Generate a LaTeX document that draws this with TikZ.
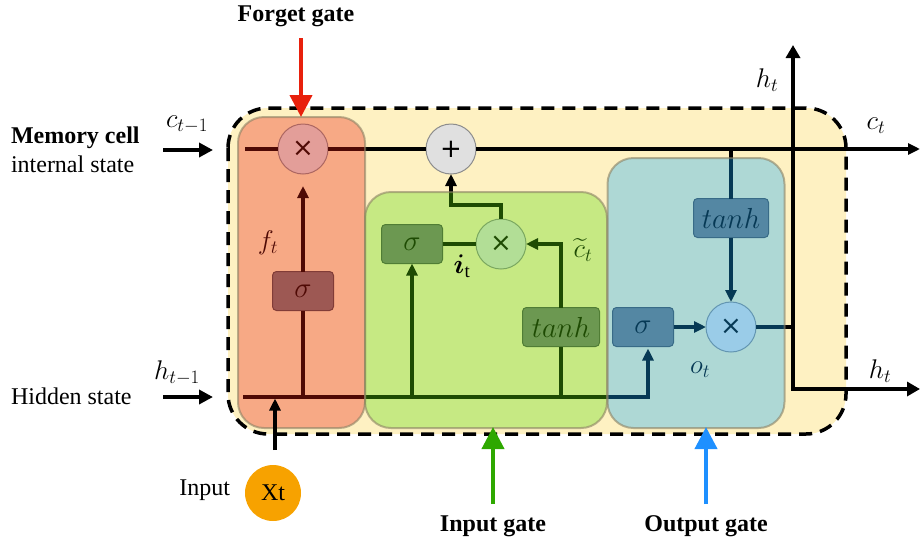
\RequirePackage{fix-cm}
\documentclass[tikz,border=0pt]{standalone}
\usepackage{amsmath}
\usepackage{fontspec}
\setmainfont{Liberation Serif}
\newfontfamily\symfont{DejaVu Sans}
\usetikzlibrary{arrows.meta}

\definecolor{bgyellow}{RGB}{254,241,194}
\definecolor{forgetC}{RGB}{234,31,16}
\definecolor{inputC}{RGB}{90,220,10}
\definecolor{outputC}{RGB}{20,168,250}
\definecolor{opgray}{RGB}{118,118,118}
\definecolor{circgray}{RGB}{224,224,224}
\definecolor{gateborder}{RGB}{140,130,100}
\definecolor{xtorange}{RGB}{247,162,0}
\definecolor{fgred}{RGB}{232,32,12}
\definecolor{igreen}{RGB}{46,168,0}
\definecolor{oblue}{RGB}{30,144,255}

\begin{document}
\begin{tikzpicture}[x=1pt,y=-1pt,
  every node/.style={inner sep=0pt, outer sep=0pt},
  txt/.style={font=\fontsize{24}{28}\selectfont},
  btxt/.style={font=\fontsize{24}{28}\selectfont\bfseries},
  lbl/.style={font=\fontsize{27}{31}\selectfont},
  opbox/.style={draw=black!70, line width=1pt, fill=opgray, rounded corners=4pt,
    minimum height=39pt, font=\fontsize{29}{33}\selectfont},
  opcirc/.style={circle, draw=black!45, line width=1pt, fill=circgray,
    minimum size=50pt, font=\symfont\fontsize{26}{26}\selectfont},
  wire/.style={line width=3.5pt, line join=miter},
  warr/.style={-{Triangle[length=12pt,width=11pt]}},
  bigarr/.style={line width=4pt, -{Triangle[length=14pt,width=14pt]}},
  gatearr/.style={line width=4pt, -{Triangle[length=22pt,width=22pt]}},
  gatebox/.style={rounded corners=26pt, draw=gateborder, draw opacity=0.6,
    line width=2pt, fill opacity=0.34},
  dashborder/.style={line width=3.5pt, dash pattern=on 13pt off 8pt, rounded corners=40pt}
]
\useasboundingbox (0,0) rectangle (920,544);

% cell background
\node[fill=bgyellow, rounded corners=40pt, minimum width=618pt, minimum height=326pt] (cell) at (537,271) {};

% operation nodes
\node[opcirc] (fx) at (303,149) {×};
\node[opcirc] (plus) at (451,149) {+};
\node[opcirc] (ix) at (501,244) {×};
\node[opcirc] (ox) at (731,327) {×};
\node[opbox, minimum width=61pt] (fs) at (303,291) {$\sigma$};
\node[opbox, minimum width=61pt] (is) at (412,244) {$\sigma$};
\node[opbox, minimum width=77pt] (it) at (561,327) {$tanh$};
\node[opbox, minimum width=61pt] (os) at (643,327) {$\sigma$};
\node[opbox, minimum width=75pt] (ot) at (731,218) {$tanh$};

% coordinates
\coordinate (cin) at (245,149);
\coordinate (cout) at (920,149);
\coordinate (hin) at (243,397);
\coordinate (hturn) at (648,397);
\coordinate (jt) at (731,149);
\coordinate (hcorner) at (793,389);
\coordinate (htop) at (793,45);
\coordinate (hright) at (920,389);

% cell state line
\draw[wire] (cin) -- (fx.west);
\draw[wire] (fx.east) -- (plus.west);
\draw[wire, warr] (plus.east) -- (cout);

% hidden/input line
\draw[wire, warr, shorten >=2pt] (hin) -- (hturn) -- (hturn |- os.south);
% forget branch
\draw[wire] (fs.south |- hin) -- (fs.south);
\draw[wire, warr, shorten >=12pt] (fs.north) -- (fx.south);
% input branch
\draw[wire, warr] (is.south |- hin) -- (is.south);
\draw[wire] (it.south |- hin) -- (it.south);
\draw[wire, warr] (it.north) |- (ix.east);
\draw[wire] (is.east) -- (ix.west);
\draw[wire, warr] (ix.north) -- ++(0,-14) -| (plus.south);
% output branch
\draw[wire] (jt) -- (ot.north);
\draw[wire, warr] (ot.south) -- (ox.north);
\draw[wire, warr] (os.east) -- (ox.west);
\draw[wire] (ox.east) -- (ox.east -| hcorner);
\draw[wire, {Triangle[length=13pt,width=14pt]}-{Triangle[length=13pt,width=14pt]}] (htop) -- (hcorner) -- (hright);

% labels under the gate overlays
\node[lbl] (ft) at (268,243) {$f_t$};
\node[lbl] (ct) at (583,250) {$\widetilde{c}_t$};
\node[lbl] (ol) at (700,370) {$o_t$};

% gate overlays
\node[gatebox, fill=forgetC, minimum width=127pt, minimum height=311pt] (fgate) at (301.5,272.5) {};
\node[gatebox, fill=inputC, minimum width=242pt, minimum height=236pt] (igate) at (486,310) {};
\node[gatebox, fill=outputC, minimum width=177pt, minimum height=270pt] (ogate) at (696,293) {};

\node[lbl] (il) at (462,266) {$\boldsymbol{i}_{\mathrm{t}}$};

% dashed border
\draw[dashborder] (cell.north west) rectangle (cell.south east);

% input Xt
\node[circle, fill=xtorange, minimum size=56pt, txt] (xt) at (273,493) {Xt};
\coordinate (xtstart) at (275,450);
\draw[wire, warr, shorten >=1.5pt] (xtstart) -- (xtstart |- hin);
\node[txt, anchor=east] (inputlbl) at (230,490) {Input};

% left inputs
\coordinate (ca) at (163,150);
\coordinate (cb) at (213,150);
\draw[bigarr] (ca) -- (cb);
\node[lbl] (cprev) at (187,124) {$c_{t-1}$};
\coordinate (ha) at (163,397);
\coordinate (hb) at (213,397);
\draw[bigarr] (ha) -- (hb);
\node[lbl] (hprev) at (177,373) {$h_{t-1}$};

\node[btxt, anchor=west] (mem) at (11,138) {Memory cell};
\node[txt, anchor=west] (intst) at (11,164) {internal state};
\node[txt, anchor=west] (hid) at (11,396) {Hidden state};

% outputs
\node[lbl] (htl) at (767,80) {$h_t$};
\node[lbl] (ctl) at (876,126) {$c_t$};
\node[lbl] (htr) at (880,371) {$h_t$};

% gate labels
\node[btxt] (fgl) at (296,16) {Forget gate};
\coordinate (fga) at (301,38);
\coordinate (fgb) at (301,117);
\draw[gatearr, fgred] (fga) -- (fgb);

\node[btxt] (igl) at (493,526) {Input gate};
\coordinate (iga) at (493,504);
\coordinate (igb) at (493,427);
\draw[gatearr, igreen] (iga) -- (igb);

\node[btxt] (ogl) at (706,526) {Output gate};
\coordinate (oga) at (706,504);
\coordinate (ogb) at (706,427);
\draw[gatearr, oblue] (oga) -- (ogb);
\end{tikzpicture}
\end{document}
